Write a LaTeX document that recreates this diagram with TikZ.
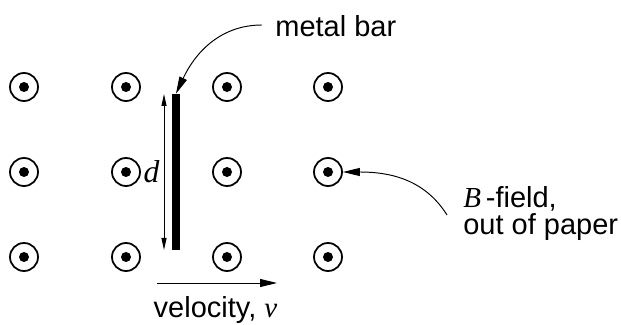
\documentclass[tikz,border=0pt]{standalone}
\usepackage{fontspec}
\setmainfont{Liberation Sans}
\newfontfamily\timesfont{Liberation Serif}
\usetikzlibrary{arrows.meta, positioning}
\newcommand{\vsym}[1]{{\timesfont\itshape #1}}

\begin{document}
\begin{tikzpicture}[
    fieldring/.style={circle, draw, line width=1pt, minimum size=0.56cm, inner sep=0pt},
    fielddot/.style={circle, fill, minimum size=0.2cm, inner sep=0pt},
    metalbar/.style={rectangle, fill=black, minimum width=0.16cm, minimum height=3.12cm, inner sep=0pt},
    lbl/.style={font=\fontsize{16.5}{15.9}\selectfont, inner sep=0pt},
    arrow/.style={line width=0.55pt, -{Triangle[length=0.34cm, width=0.16cm]}},
    dimarrow/.style={line width=0.55pt, {Triangle[length=0.24cm, width=0.1cm]}-{Triangle[length=0.24cm, width=0.1cm]}}
]

\useasboundingbox (0,0) rectangle (12.42,6.5);

% B-Feld: Kreise mit Punkt
\foreach \i/\x in {1/0.48, 2/2.52, 3/4.54, 4/6.56} {
    \foreach \j/\y in {1/4.76, 2/3.06, 3/1.36} {
        \node[fieldring] (c-\i-\j) at (\x, \y) {};
        \node[fielddot] at (c-\i-\j) {};
    }
}

% Stab
\node[metalbar] (bar) at (3.52, 3.06) {};

% Laenge d
\coordinate (dtop) at (3.28, 4.62);
\coordinate (dbot) at (3.28, 1.50);
\draw[dimarrow] (dtop) -- (dbot);
\node[lbl, font=\fontsize{18}{18}\selectfont] (dlabel) at (3.03, 3.06) {\vsym{d}};

% Geschwindigkeit
\coordinate (vstart) at (3.14, 0.84);
\coordinate (vend) at (5.54, 0.84);
\draw[arrow] (vstart) -- (vend);
\node[lbl, anchor=base] (vlabel) at (4.31, 0.14) {velocity, \vsym{v}};

% Beschriftungen
\node[lbl, anchor=base west] (barlabel) at (5.50, 5.76) {metal bar};
\node[lbl, anchor=base west, align=left] (fieldlabel) at (9.26, 1.80) {\vsym{B}\,-field,\\out of paper};

% Pfeile zu den Beschriftungen
\draw[arrow] ([xshift=-0.26cm, yshift=0.24cm]barlabel.base west) to[out=180, in=65] (bar.north);
\draw[arrow] ([xshift=-0.32cm, yshift=0.40cm]fieldlabel.base west) to[out=122, in=0] (c-4-2.east);

\end{tikzpicture}
\end{document}
